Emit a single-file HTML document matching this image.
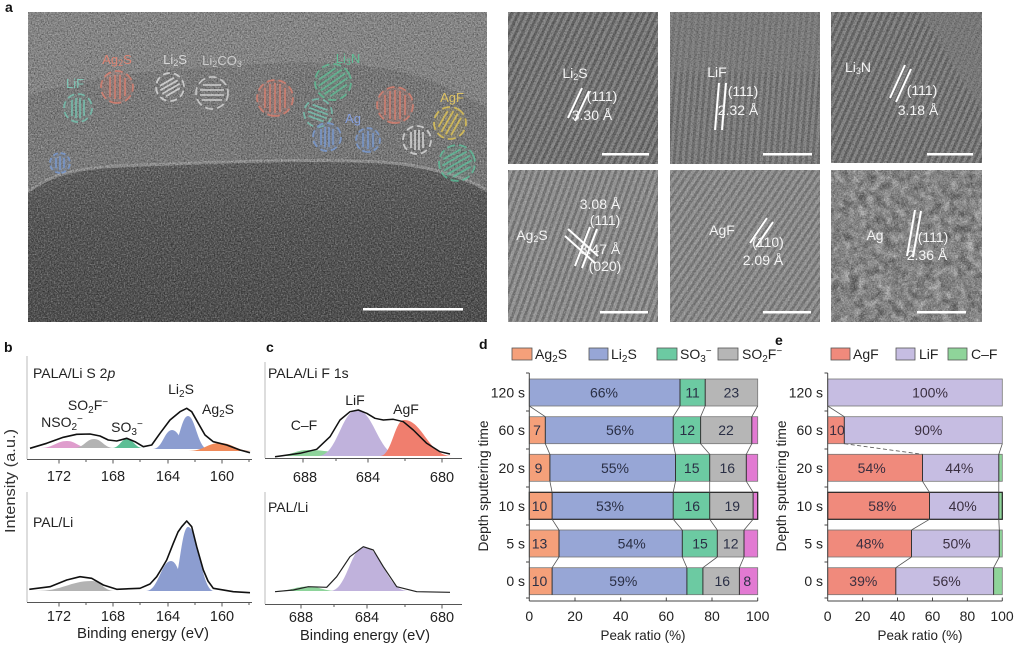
<!DOCTYPE html>
<html><head><meta charset="utf-8"><style>
html,body{margin:0;padding:0;background:#fff}
svg{display:block}
text{font-family:"Liberation Sans",Arial,sans-serif}
</style></head><body>
<svg width="1017" height="645" viewBox="0 0 1017 645" xmlns="http://www.w3.org/2000/svg">
<defs>
<linearGradient id="dome" x1="0" y1="0" x2="0" y2="1"><stop offset="0" stop-color="#5c5c5c"/><stop offset="0.4" stop-color="#505050"/><stop offset="1" stop-color="#484848"/></linearGradient>
<linearGradient id="topg" x1="0" y1="0" x2="0" y2="1"><stop offset="0" stop-color="#888"/><stop offset="1" stop-color="#7e7e7e"/></linearGradient>
<pattern id="p1" width="6" height="10" patternUnits="userSpaceOnUse" patternTransform="rotate(25)"><rect width="6" height="10" fill="#8e8e8e"/><rect width="2.8" height="10" fill="#6a6a6a"/></pattern>
<pattern id="p2" width="6" height="10" patternUnits="userSpaceOnUse" patternTransform="rotate(5)"><rect width="6" height="10" fill="#8e8e8e"/><rect width="2.8" height="10" fill="#747474"/></pattern>
<pattern id="p3" width="6" height="10" patternUnits="userSpaceOnUse" patternTransform="rotate(24)"><rect width="6" height="10" fill="#8e8e8e"/><rect width="2.8" height="10" fill="#6c6c6c"/></pattern>
<pattern id="p4" width="6" height="10" patternUnits="userSpaceOnUse" patternTransform="rotate(20)"><rect width="6" height="10" fill="#8e8e8e"/><rect width="2.8" height="10" fill="#6a6a6a"/></pattern>
<pattern id="p5" width="6" height="10" patternUnits="userSpaceOnUse" patternTransform="rotate(34)"><rect width="6" height="10" fill="#8c8c8c"/><rect width="2.8" height="10" fill="#6c6c6c"/></pattern>
<pattern id="pl" width="3" height="10" patternUnits="userSpaceOnUse" patternTransform="rotate(3)"><rect width="3" height="10" fill="#7c7c7c"/><rect width="1.4" height="10" fill="#6a6a6a"/></pattern>
<filter id="nzd" x="0" y="0" width="1" height="1"><feTurbulence type="fractalNoise" baseFrequency="0.7" numOctaves="2" seed="7"/><feColorMatrix type="matrix" values="0 0 0 0 0  0 0 0 0 0  0 0 0 0 0  2.2 0 0 0 -0.9"/></filter>
<filter id="nzl" x="0" y="0" width="1" height="1"><feTurbulence type="fractalNoise" baseFrequency="0.7" numOctaves="2" seed="19"/><feColorMatrix type="matrix" values="0 0 0 0 1  0 0 0 0 1  0 0 0 0 1  2.2 0 0 0 -0.9"/></filter>
<filter id="nzm" x="0" y="0" width="1" height="1"><feTurbulence type="fractalNoise" baseFrequency="0.12" numOctaves="3" seed="4"/><feColorMatrix type="matrix" values="0 0 0 0 1  0 0 0 0 1  0 0 0 0 1  2.6 0 0 0 -1.1"/></filter>
<filter id="nzm2" x="0" y="0" width="1" height="1"><feTurbulence type="fractalNoise" baseFrequency="0.12" numOctaves="3" seed="11"/><feColorMatrix type="matrix" values="0 0 0 0 0  0 0 0 0 0  0 0 0 0 0  2.6 0 0 0 -1.1"/></filter>
<clipPath id="cL"><rect x="28" y="12" width="459" height="310"/></clipPath>
</defs>

<!-- ===== Panel a ===== -->
<text x="5" y="12" font-size="14" font-weight="bold" fill="#111">a</text>
<g clip-path="url(#cL)">
<rect x="28" y="12" width="459" height="310" fill="url(#topg)"/>
<path d="M28,96 C80,80 130,72 200,68 C260,64 320,58 380,68 C425,75 455,90 487,108 L487,200 L28,200 Z" fill="#7a7a7a"/>
<path d="M240,100 C280,70 340,60 380,68 C425,75 455,90 487,108 L487,190 L240,170 Z" fill="url(#pl)" opacity="0.55"/>
<path d="M28,192 C45,178 70,168 120,166 C200,163 300,158 380,162 C430,165 465,178 487,190 L487,322 L28,322 Z" fill="url(#dome)"/>
<path d="M28,192 C45,178 70,168 120,166 C200,163 300,158 380,162 C430,165 465,178 487,190" fill="none" stroke="#a4a4a4" stroke-width="3" opacity="0.7"/>
<rect x="28" y="12" width="459" height="310" filter="url(#nzd)" opacity="0.45"/>
<rect x="28" y="12" width="459" height="310" filter="url(#nzl)" opacity="0.35"/>
</g>
<!-- annotations -->
<g font-size="13" text-anchor="middle" opacity="0.85">
<text x="75" y="88" fill="#7fd3c0">LiF</text>
<text x="117" y="64" fill="#ec8470">Ag<tspan dy="2" font-size="9">2</tspan><tspan dy="-2">S</tspan></text>
<text x="175" y="64" fill="#e6e6e6">Li<tspan dy="2" font-size="9">2</tspan><tspan dy="-2">S</tspan></text>
<text x="222" y="65" fill="#d8d8d8">Li<tspan dy="2" font-size="9">2</tspan><tspan dy="-2">CO</tspan><tspan dy="2" font-size="9">3</tspan></text>
<text x="348" y="63" fill="#5cc89a">Li<tspan dy="2" font-size="9">3</tspan><tspan dy="-2">N</tspan></text>
<text x="353" y="123" fill="#8aa8f0">Ag</text>
<text x="452" y="102" fill="#f0d060">AgF</text>
</g>
<g fill="none" stroke-width="1.8" opacity="0.72">
<g transform="translate(78,108) rotate(90)" stroke="#76cdb8"><circle r="14" stroke-dasharray="7 4" fill="#76cdb8" fill-opacity="0.1"/><path d="M-8,-6H8M-10,-2H10M-10,2H10M-8,6H8"/></g>
<g transform="translate(117,87) rotate(90)" stroke="#e8806e"><circle r="16" stroke-dasharray="8 4" fill="#e8806e" fill-opacity="0.22"/><path d="M-9,-8H9M-12,-3H12M-12,2H12M-10,7H10"/></g>
<g transform="translate(170,87) rotate(-30)" stroke="#e8e8e8"><circle r="14" stroke-dasharray="7 4"/><path d="M-8,-6H8M-10,-2H10M-10,2H10M-8,6H8"/></g>
<g transform="translate(212,93)" stroke="#e0e0e0"><circle r="16" stroke-dasharray="8 4"/><path d="M-9,-8H9M-12,-3H12M-12,2H12M-10,7H10"/></g>
<g transform="translate(275,98) rotate(90)" stroke="#e8806e"><circle r="18" stroke-dasharray="8 4" fill="#e8806e" fill-opacity="0.25"/><path d="M-10,-10H10M-14,-5H14M-15,0H15M-14,5H14M-10,10H10"/></g>
<g transform="translate(333,82) rotate(-35)" stroke="#5cc89a"><circle r="18" stroke-dasharray="8 4" fill="#5cc89a" fill-opacity="0.18"/><path d="M-10,-10H10M-14,-5H14M-15,0H15M-14,5H14M-10,10H10"/></g>
<g transform="translate(318,113) rotate(20)" stroke="#76cdb8"><circle r="14" stroke-dasharray="7 4"/><path d="M-8,-6H8M-10,-2H10M-10,2H10M-8,6H8"/></g>
<g transform="translate(327,137) rotate(90)" stroke="#7aa0e0"><circle r="14" stroke-dasharray="7 4" fill="#7aa0e0" fill-opacity="0.22"/><path d="M-8,-6H8M-10,-2H10M-10,2H10M-8,6H8"/></g>
<g transform="translate(368,140) rotate(90)" stroke="#7aa0e0"><circle r="12" stroke-dasharray="6 3" fill="#7aa0e0" fill-opacity="0.22"/><path d="M-7,-5H7M-9,0H9M-7,5H7"/></g>
<g transform="translate(395,105) rotate(90)" stroke="#e8806e"><circle r="18" stroke-dasharray="8 4" fill="#e8806e" fill-opacity="0.25"/><path d="M-10,-10H10M-14,-5H14M-15,0H15M-14,5H14M-10,10H10"/></g>
<g transform="translate(417,140) rotate(90)" stroke="#e8e8e8"><circle r="14" stroke-dasharray="7 4"/><path d="M-8,-6H8M-10,-2H10M-10,2H10M-8,6H8"/></g>
<g transform="translate(450,123) rotate(-60)" stroke="#f0d050"><circle r="16" stroke-dasharray="8 4" fill="#f0d050" fill-opacity="0.15"/><path d="M-9,-8H9M-12,-3H12M-12,2H12M-10,7H10"/></g>
<g transform="translate(457,163) rotate(-30)" stroke="#5cc8a0"><circle r="18" stroke-dasharray="8 4" fill="#5cc8a0" fill-opacity="0.15"/><path d="M-10,-10H10M-14,-5H14M-15,0H15M-14,5H14M-10,10H10"/></g>
<g transform="translate(60,163) rotate(90)" stroke="#7aa0e0"><circle r="10" stroke-dasharray="5 3" fill="#7aa0e0" fill-opacity="0.2"/><path d="M-5,-4H5M-7,0H7M-5,4H5"/></g>
</g>
<rect x="363" y="308" width="100" height="2.5" fill="#fff"/>

<!-- right TEM images -->
<rect x="508" y="12" width="150" height="152" fill="url(#p1)"/>
<rect x="670" y="12" width="150" height="152" fill="url(#p2)"/>
<rect x="670" y="12" width="150" height="60" fill="#888" opacity="0.5"/>
<rect x="831" y="12" width="151" height="151" fill="url(#p3)"/>
<path d="M920,12 L982,12 L982,110 C960,80 940,40 920,12 Z" fill="#858585" opacity="0.7"/>
<rect x="508" y="170" width="150" height="152" fill="url(#p4)"/>
<rect x="670" y="170" width="150" height="152" fill="url(#p5)"/>
<rect x="831" y="170" width="151" height="152" fill="#848484"/>
<g>
<rect x="508" y="12" width="150" height="152" filter="url(#nzd)" opacity="0.35"/>
<rect x="670" y="12" width="150" height="152" filter="url(#nzd)" opacity="0.35"/>
<rect x="831" y="12" width="151" height="151" filter="url(#nzd)" opacity="0.35"/>
<rect x="508" y="170" width="150" height="152" filter="url(#nzl)" opacity="0.3"/>
<rect x="670" y="170" width="150" height="152" filter="url(#nzl)" opacity="0.3"/>
<rect x="831" y="170" width="151" height="152" filter="url(#nzm)" opacity="0.4"/>
<rect x="831" y="170" width="151" height="152" filter="url(#nzm2)" opacity="0.32"/>
<rect x="831" y="170" width="151" height="152" filter="url(#nzl)" opacity="0.35"/>
<rect x="831" y="170" width="151" height="152" filter="url(#nzd)" opacity="0.3"/>
</g>
<g stroke="#fff" stroke-width="2" fill="none">
<path d="M568,118 L582,88 M575,121 L589,91"/>
<path d="M715,130 L719,83 M722,130 L726,83"/>
<path d="M890,98 L905,65 M896,102 L911,69"/>
<path d="M568,229 L598,256 M565,236 L595,263 M575,266 L590,227 M582,268 L597,229"/>
<path d="M750,243 L767,218 M756,247 L773,222"/>
<path d="M907,256 L915,210 M913,257 L921,211"/>
</g>
<g fill="#fff">
<rect x="602" y="153" width="47" height="2.5"/>
<rect x="763" y="153" width="49" height="2.5"/>
<rect x="927" y="153" width="46" height="2.5"/>
<rect x="600" y="311" width="48" height="2.5"/>
<rect x="763" y="311" width="48" height="2.5"/>
<rect x="917" y="311" width="49" height="2.5"/>
</g>
<g fill="#f4f4f4" font-size="14" text-anchor="middle">
<text x="575" y="78">Li<tspan dy="2" font-size="9">2</tspan><tspan dy="-2">S</tspan></text>
<text x="602" y="101">(111)</text>
<text x="592" y="120">3.30 Å</text>
<text x="717" y="77">LiF</text>
<text x="743" y="96">(111)</text>
<text x="738" y="115">2.32 Å</text>
<text x="858" y="72">Li<tspan dy="2" font-size="9">3</tspan><tspan dy="-2">N</tspan></text>
<text x="922" y="95">(111)</text>
<text x="918" y="115">3.18 Å</text>
<text x="532" y="240">Ag<tspan dy="2" font-size="9">2</tspan><tspan dy="-2">S</tspan></text>
<text x="600" y="209">3.08 Å</text>
<text x="605" y="225">(111)</text>
<text x="600" y="254">3.47 Å</text>
<text x="605" y="271">(020)</text>
<text x="722" y="235">AgF</text>
<text x="768" y="247">(110)</text>
<text x="763" y="265">2.09 Å</text>
<text x="875" y="240">Ag</text>
<text x="933" y="242">(111)</text>
<text x="927" y="260">2.36 Å</text>
</g>

<!-- ===== Panel b ===== -->
<text x="4" y="352" font-size="14" font-weight="bold" fill="#111">b</text>
<text x="33" y="378" font-size="14" fill="#222">PALA/Li S 2<tspan font-style="italic">p</tspan></text>
<text x="33" y="527" font-size="14" fill="#222">PAL/Li</text>
<text transform="translate(15,481) rotate(-90)" font-size="14.5" text-anchor="middle" fill="#333" textLength="104" lengthAdjust="spacingAndGlyphs">Intensity (a.u.)</text>
<path d="M40,448 C53.5,448 56.2,441 67,441 C76.2,441 78.5,448 90,448 Z" fill="#d98cc4" opacity="0.85"/>
<path d="M74,448 C84,448 86,439 94,439 C102,439 104,448 114,448 Z" fill="#b3b3b3"/>
<path d="M112,448 C119.5,448 121,439 127,439 C133.4,439 135,448 143,448 Z" fill="#5dbe95"/>
<path d="M153,449 C162.5,449 164.4,430 172,430 C180,430 182,449 192,449 Z" fill="#8c9dd0"/>
<path d="M170,449 C179,449 180.8,416 188,416 C195.2,416 198,449 208,449 Z" fill="#8c9dd0"/>
<path d="M188,451 C204,451 207,443 220,443 C233,443 236,451 252,451 Z" fill="#f08a5a"/>
<path d="M30,448.3 L46.7,443.3 L63.3,437.3 L76.7,434.3 L90,434 L100,436 L108.3,440 L116.7,441 L126.7,438.3 L135,441.7 L143.3,446.7 L151.7,445 L160,433.3 L170,420 L180,411.7 L186.7,408.3 L191.7,411.7 L198.3,423.3 L205,435 L213.3,441.7 L226.7,445 L240,450 L250,452.7" fill="none" stroke="#111" stroke-width="1.6" stroke-linejoin="round"/>
<g font-size="14" fill="#222" text-anchor="middle">
<text x="181" y="394">Li<tspan dy="3" font-size="10">2</tspan><tspan dy="-3">S</tspan></text>
<text x="218" y="414">Ag<tspan dy="3" font-size="10">2</tspan><tspan dy="-3">S</tspan></text>
<text x="88" y="410">SO<tspan dy="3" font-size="10">2</tspan><tspan dy="-3">F</tspan><tspan dy="-5" font-size="10">−</tspan></text>
<text x="62" y="427">NSO<tspan dy="3" font-size="10">2</tspan><tspan dy="-8" font-size="10">−</tspan></text>
<text x="127" y="432">SO<tspan dy="3" font-size="10">3</tspan><tspan dy="-8" font-size="10">−</tspan></text>
</g>
<path d="M35,591 C63.5,591 69,581 92,581 C101,581 103.5,591 115,591 Z" fill="#b3b3b3"/>
<path d="M146,591 C158.5,591 161,561 171,561 C179.4,561 181.5,591 192,591 Z" fill="#8c9dd0"/>
<path d="M170,591 C179,591 180.8,527 188,527 C198.4,527 201,591 214,591 Z" fill="#8c9dd0"/>
<path d="M29.3,589.3 L50,586.7 L66.7,580 L80,576.7 L91.7,578.3 L103.3,585 L116.7,589.3 L140,588.3 L150,584 L156.7,576.7 L162,568 L166.7,560 L173.3,543.3 L178,532 L181.7,526.7 L186.7,521 L191.7,526.7 L196.7,546.7 L203.3,570 L208,581 L213.3,588.3 L233.3,591.7 L250,592.7" fill="none" stroke="#111" stroke-width="1.6" stroke-linejoin="round"/>
<g stroke="#bbb" stroke-width="1"><line x1="27" y1="356" x2="27" y2="459"/><line x1="27" y1="492" x2="27" y2="602"/></g>
<g stroke="#555" stroke-width="1">
<line x1="27" y1="459.5" x2="252" y2="459.5"/>
<path d="M59,459.5v4M113,459.5v4M168,459.5v4M222,459.5v4M86,459.5v2.5M140,459.5v2.5M195,459.5v2.5M249,459.5v2.5"/>
<line x1="27" y1="602.5" x2="252" y2="602.5"/>
<path d="M59,602.5v4M113,602.5v4M168,602.5v4M222,602.5v4M86,602.5v2.5M140,602.5v2.5M195,602.5v2.5M249,602.5v2.5"/>
</g>
<g font-size="14.5" fill="#222" text-anchor="middle">
<text x="59" y="481">172</text><text x="113" y="481">168</text><text x="168" y="481">164</text><text x="222" y="481">160</text>
<text x="59" y="621">172</text><text x="113" y="621">168</text><text x="168" y="621">164</text><text x="222" y="621">160</text>
<text x="143" y="638" textLength="132" lengthAdjust="spacingAndGlyphs">Binding energy (eV)</text>
</g>

<!-- ===== Panel c ===== -->
<text x="266" y="352" font-size="14" font-weight="bold" fill="#111">c</text>
<text x="268" y="378" font-size="14" fill="#222">PALA/Li F 1s</text>
<text x="268" y="512" font-size="14" fill="#222">PAL/Li</text>
<path d="M275,456 C291.5,456 294.8,450 308,450 C331,450 348.5,456 365,456 Z" fill="#8ed49b"/>
<path d="M318,456 C337.5,456 341.4,410 357,410 C374,410 378.5,456 400,456 Z" fill="#c0b2dc"/>
<path d="M380,456 C392,456 394.4,420 404,420 C423,420 428,456 452,456 Z" fill="#f07e6e"/>
<path d="M275,456.7 L300,453.3 L316.7,449.3 L330,436.7 L340,420 L350,411.7 L358.3,410 L366.7,413.3 L375,418.3 L383.3,420 L393.3,419.3 L403.3,421.7 L413.3,430 L426.7,443.3 L440,451.7 L450,454" fill="none" stroke="#111" stroke-width="1.5" stroke-linejoin="round"/>
<path d="M275,591 C291.5,591 294.8,586.5 308,586.5 C320,586.5 323,591 338,591 Z" fill="#8ed49b"/>
<path d="M330,591 C347,591 350.4,547 364,547 C381.6,547 386,591 408,591 Z" fill="#c0b2dc"/>
<path d="M275,591.7 L293.3,590 L308.3,586.7 L326.7,587.3 L336.7,576.7 L350,556.7 L363.3,546.7 L373.3,550 L383.3,566.7 L396.7,586.7 L416.7,591.7 L450,592.3" fill="none" stroke="#222" stroke-width="1.2" stroke-linejoin="round"/>
<g font-size="14" fill="#222" text-anchor="middle">
<text x="355" y="405">LiF</text>
<text x="406" y="414">AgF</text>
<text x="304" y="430">C–F</text>
</g>
<g stroke="#bbb" stroke-width="1"><line x1="265" y1="362" x2="265" y2="458"/><line x1="265" y1="492" x2="265" y2="604"/></g>
<g stroke="#555" stroke-width="1">
<line x1="265" y1="458.5" x2="462" y2="458.5"/>
<path d="M303,458.5v4M368,458.5v4M442,458.5v4M336,458.5v2.5M405,458.5v2.5"/>
<line x1="265" y1="604.5" x2="462" y2="604.5"/>
<path d="M301,604.5v4M367,604.5v4M442,604.5v4M334,604.5v2.5M405,604.5v2.5"/>
</g>
<g font-size="14.5" fill="#222" text-anchor="middle">
<text x="305" y="482">688</text><text x="368" y="482">684</text><text x="442" y="482">680</text>
<text x="301" y="622">688</text><text x="367" y="622">684</text><text x="442" y="622">680</text>
<text x="365" y="640" textLength="130" lengthAdjust="spacingAndGlyphs">Binding energy (eV)</text>
</g>

<!-- ===== Panel d ===== -->
<text x="479" y="349" font-size="14" font-weight="bold" fill="#111">d</text>
<g stroke="#555" stroke-width="0.8">
<rect x="512" y="348" width="20" height="12" fill="#f5a07a"/>
<rect x="589" y="348" width="19" height="12" fill="#97a6d6"/>
<rect x="657" y="348" width="20" height="12" fill="#6ccaa2"/>
<rect x="718" y="348" width="20" height="12" fill="#b6b6b6"/>
</g>
<g font-size="14" fill="#222">
<text x="535" y="359">Ag<tspan dy="3" font-size="10">2</tspan><tspan dy="-3">S</tspan></text>
<text x="611" y="359">Li<tspan dy="3" font-size="10">2</tspan><tspan dy="-3">S</tspan></text>
<text x="680" y="359">SO<tspan dy="3" font-size="10">3</tspan><tspan dy="-8" font-size="10">−</tspan></text>
<text x="742" y="359">SO<tspan dy="3" font-size="10">2</tspan><tspan dy="-3">F</tspan><tspan dy="-5" font-size="10">−</tspan></text>
</g>
<g stroke="none">
<rect x="529.3" y="379" width="150.7" height="27" fill="#97a6d6"/>
<rect x="680" y="379" width="25.2" height="27" fill="#6ccaa2"/>
<rect x="705.2" y="379" width="52.5" height="27" fill="#b6b6b6"/>
<rect x="529.3" y="416.7" width="16" height="27" fill="#f5a07a"/>
<rect x="545.3" y="416.7" width="127.9" height="27" fill="#97a6d6"/>
<rect x="673.2" y="416.7" width="27.4" height="27" fill="#6ccaa2"/>
<rect x="700.6" y="416.7" width="51.2" height="27" fill="#b6b6b6"/>
<rect x="751.8" y="416.7" width="5.9" height="27" fill="#e27ad2"/>
<rect x="529.3" y="454.3" width="20.6" height="27" fill="#f5a07a"/>
<rect x="549.9" y="454.3" width="125.6" height="27" fill="#97a6d6"/>
<rect x="675.5" y="454.3" width="34.2" height="27" fill="#6ccaa2"/>
<rect x="709.7" y="454.3" width="36.6" height="27" fill="#b6b6b6"/>
<rect x="746.3" y="454.3" width="11.4" height="27" fill="#e27ad2"/>
<rect x="529.3" y="492.3" width="22.8" height="27" fill="#f5a07a"/>
<rect x="552.1" y="492.3" width="121.1" height="27" fill="#97a6d6"/>
<rect x="673.2" y="492.3" width="36.5" height="27" fill="#6ccaa2"/>
<rect x="709.7" y="492.3" width="43.4" height="27" fill="#b6b6b6"/>
<rect x="753.1" y="492.3" width="4.6" height="27" fill="#e27ad2"/>
<rect x="529.3" y="530" width="29.7" height="27" fill="#f5a07a"/>
<rect x="559" y="530" width="123.3" height="27" fill="#97a6d6"/>
<rect x="682.3" y="530" width="35" height="27" fill="#6ccaa2"/>
<rect x="717.3" y="530" width="26.7" height="27" fill="#b6b6b6"/>
<rect x="744" y="530" width="13.7" height="27" fill="#e27ad2"/>
<rect x="529.3" y="567.7" width="22.8" height="27" fill="#f5a07a"/>
<rect x="552.1" y="567.7" width="134.8" height="27" fill="#97a6d6"/>
<rect x="686.9" y="567.7" width="16" height="27" fill="#6ccaa2"/>
<rect x="702.9" y="567.7" width="36.5" height="27" fill="#b6b6b6"/>
<rect x="739.4" y="567.7" width="18.3" height="27" fill="#e27ad2"/>
</g>
<g fill="none" stroke="#777" stroke-width="0.8">
<rect x="529.3" y="379" width="228.4" height="27"/>
<rect x="529.3" y="416.7" width="228.4" height="27"/>
<rect x="529.3" y="454.3" width="228.4" height="27"/>
<rect x="529.3" y="530" width="228.4" height="27"/>
<rect x="529.3" y="567.7" width="228.4" height="27"/>
</g>
<rect x="529.3" y="492.3" width="228.4" height="27" fill="none" stroke="#222" stroke-width="1.2"/>
<g stroke="#333" stroke-width="1">
<path d="M680,379v27M705.2,379v27"/>
<path d="M545.3,416.7v27M673.2,416.7v27M700.6,416.7v27M751.8,416.7v27"/>
<path d="M549.9,454.3v27M675.5,454.3v27M709.7,454.3v27M746.3,454.3v27"/>
<path d="M552.1,492.3v27M673.2,492.3v27M709.7,492.3v27M753.1,492.3v27"/>
<path d="M559,530v27M682.3,530v27M717.3,530v27M744,530v27"/>
<path d="M552.1,567.7v27M686.9,567.7v27M702.9,567.7v27M739.4,567.7v27"/>
</g>
<g stroke="#555" stroke-width="0.8" fill="none">
<path d="M529.3,406 L545.3,416.7 M680,406 L673.2,416.7 M705.2,406 L700.6,416.7 M757.7,406 L751.8,416.7"/>
<path d="M545.3,443.7 L549.9,454.3 M673.2,443.7 L675.5,454.3 M700.6,443.7 L709.7,454.3 M751.8,443.7 L746.3,454.3"/>
<path d="M549.9,481.3 L552.1,492.3 M675.5,481.3 L673.2,492.3 M709.7,481.3 L709.7,492.3 M746.3,481.3 L753.1,492.3"/>
<path d="M552.1,519.3 L559,530 M673.2,519.3 L682.3,530 M709.7,519.3 L717.3,530 M753.1,519.3 L744,530"/>
<path d="M559,557 L552.1,567.7 M682.3,557 L686.9,567.7 M717.3,557 L702.9,567.7 M744,557 L739.4,567.7"/>
</g>
<g font-size="14" fill="#2a2f45" text-anchor="middle">
<text x="604" y="397.5">66%</text><text x="692.6" y="397.5">11</text><text x="731.4" y="397.5">23</text>
<text x="537" y="435.2">7</text><text x="620" y="435.2">56%</text><text x="687.3" y="435.2">12</text><text x="726" y="435.2">22</text>
<text x="538.5" y="472.8">9</text><text x="615" y="472.8">55%</text><text x="691.7" y="472.8">15</text><text x="727.3" y="472.8">16</text>
<text x="539.5" y="510.8">10</text><text x="610" y="510.8">53%</text><text x="692.3" y="510.8">16</text><text x="732.3" y="510.8">19</text>
<text x="539.5" y="548.5">13</text><text x="631.7" y="548.5">54%</text><text x="700" y="548.5">15</text><text x="730.7" y="548.5">12</text>
<text x="539.5" y="586.2">10</text><text x="623.3" y="586.2">59%</text><text x="722.3" y="586.2">16</text><text x="747.3" y="586.2">8</text>
</g>
<g stroke="#444" stroke-width="1">
<line x1="529.3" y1="373" x2="529.3" y2="601"/>
<line x1="529.3" y1="601" x2="757.7" y2="601"/>
<path d="M526,373h3.3M526,411h3.3M526,449h3.3M526,487h3.3M526,525h3.3M526,562h3.3M526,598h3.3"/>
<path d="M575,601v-3.5M620.7,601v-3.5M666.3,601v-3.5M712,601v-3.5M757.7,601v-3.5"/>
</g>
<g font-size="14" fill="#222" text-anchor="end">
<text x="525" y="397.5">120 s</text><text x="525" y="435.2">60 s</text><text x="525" y="472.8">20 s</text><text x="525" y="510.8">10 s</text><text x="525" y="548.5">5 s</text><text x="525" y="586.2">0 s</text>
</g>
<g font-size="14" fill="#222" text-anchor="middle">
<text x="529.3" y="621">0</text><text x="575" y="621">20</text><text x="620.7" y="621">40</text><text x="666.3" y="621">60</text><text x="712" y="621">80</text><text x="757.7" y="621">100</text>
<text x="643" y="640" textLength="85" lengthAdjust="spacingAndGlyphs">Peak ratio (%)</text>
</g>
<text transform="translate(488,486) rotate(-90)" font-size="14" fill="#222" text-anchor="middle" textLength="131" lengthAdjust="spacingAndGlyphs">Depth sputtering time</text>

<!-- ===== Panel e ===== -->
<text x="775" y="345" font-size="14" font-weight="bold" fill="#111">e</text>
<g stroke="#555" stroke-width="0.8">
<rect x="831" y="348" width="19" height="12" fill="#f08a7c"/>
<rect x="896" y="348" width="19" height="12" fill="#c6bde2"/>
<rect x="948" y="348" width="19" height="12" fill="#8fd49a"/>
</g>
<g font-size="14" fill="#222">
<text x="853" y="359">AgF</text><text x="919" y="359">LiF</text><text x="971" y="359">C–F</text>
</g>
<g>
<rect x="827.7" y="379" width="174.6" height="27" fill="#c6bde2"/>
<rect x="827.7" y="416.7" width="16.6" height="27" fill="#f08a7c"/>
<rect x="844.3" y="416.7" width="158" height="27" fill="#c6bde2"/>
<rect x="827.7" y="454.3" width="94.8" height="27" fill="#f08a7c"/>
<rect x="922.5" y="454.3" width="76.3" height="27" fill="#c6bde2"/>
<rect x="998.8" y="454.3" width="3.5" height="27" fill="#8fd49a"/>
<rect x="827.7" y="492.3" width="101.8" height="27" fill="#f08a7c"/>
<rect x="929.5" y="492.3" width="69.3" height="27" fill="#c6bde2"/>
<rect x="998.8" y="492.3" width="3.5" height="27" fill="#8fd49a"/>
<rect x="827.7" y="530" width="83.8" height="27" fill="#f08a7c"/>
<rect x="911.5" y="530" width="87.8" height="27" fill="#c6bde2"/>
<rect x="999.3" y="530" width="3" height="27" fill="#8fd49a"/>
<rect x="827.7" y="567.7" width="68.1" height="27" fill="#f08a7c"/>
<rect x="895.8" y="567.7" width="97.8" height="27" fill="#c6bde2"/>
<rect x="993.6" y="567.7" width="8.7" height="27" fill="#8fd49a"/>
</g>
<g fill="none" stroke="#777" stroke-width="0.8">
<rect x="827.7" y="379" width="174.6" height="27"/>
<rect x="827.7" y="416.7" width="174.6" height="27"/>
<rect x="827.7" y="454.3" width="174.6" height="27"/>
<rect x="827.7" y="530" width="174.6" height="27"/>
<rect x="827.7" y="567.7" width="174.6" height="27"/>
</g>
<rect x="827.7" y="492.3" width="174.6" height="27" fill="none" stroke="#222" stroke-width="1.2"/>
<g stroke="#333" stroke-width="1">
<path d="M844.3,416.7v27M922.5,454.3v27M998.8,454.3v27M929.5,492.3v27M998.8,492.3v27M911.5,530v27M999.3,530v27M895.8,567.7v27M993.6,567.7v27"/>
</g>
<g stroke="#555" stroke-width="0.8" fill="none">
<path d="M827.7,406 L844.3,416.7"/>
<path d="M844.3,443.7 L922.5,454.3" stroke-dasharray="4 2.5"/>
<path d="M1002.3,443.7 L998.8,454.3"/>
<path d="M922.5,481.3 L929.5,492.3 M998.8,481.3 L998.8,492.3"/>
<path d="M929.5,519.3 L911.5,530 M998.8,519.3 L999.3,530"/>
<path d="M911.5,557 L895.8,567.7 M999.3,557 L993.6,567.7"/>
</g>
<g font-size="14" fill="#3a2f40" text-anchor="middle">
<text x="930" y="397.5">100%</text>
<text x="837" y="435.2">10</text><text x="928.3" y="435.2">90%</text>
<text x="871.7" y="472.8">54%</text><text x="959.3" y="472.8">44%</text>
<text x="882.3" y="510.8">58%</text><text x="962.7" y="510.8">40%</text>
<text x="870" y="548.5">48%</text><text x="956.7" y="548.5">50%</text>
<text x="863.3" y="586.2">39%</text><text x="946.7" y="586.2">56%</text>
</g>
<g stroke="#444" stroke-width="1">
<line x1="827.7" y1="373" x2="827.7" y2="601"/>
<line x1="827.7" y1="601" x2="1002.3" y2="601"/>
<path d="M824.5,373h3.2M824.5,411h3.2M824.5,449h3.2M824.5,487h3.2M824.5,525h3.2M824.5,562h3.2M824.5,598h3.2"/>
<path d="M862.6,601v-3.5M897.5,601v-3.5M932.5,601v-3.5M967.4,601v-3.5M1002.3,601v-3.5"/>
</g>
<g font-size="14" fill="#222" text-anchor="end">
<text x="823" y="397.5">120 s</text><text x="823" y="435.2">60 s</text><text x="823" y="472.8">20 s</text><text x="823" y="510.8">10 s</text><text x="823" y="548.5">5 s</text><text x="823" y="586.2">0 s</text>
</g>
<g font-size="14" fill="#222" text-anchor="middle">
<text x="827.7" y="621">0</text><text x="862.6" y="621">20</text><text x="897.5" y="621">40</text><text x="932.5" y="621">60</text><text x="967.4" y="621">80</text><text x="1002" y="621">100</text>
<text x="920" y="640" textLength="85" lengthAdjust="spacingAndGlyphs">Peak ratio (%)</text>
</g>
<text transform="translate(786,486) rotate(-90)" font-size="14" fill="#222" text-anchor="middle" textLength="131" lengthAdjust="spacingAndGlyphs">Depth sputtering time</text>
</svg>
</body></html>
